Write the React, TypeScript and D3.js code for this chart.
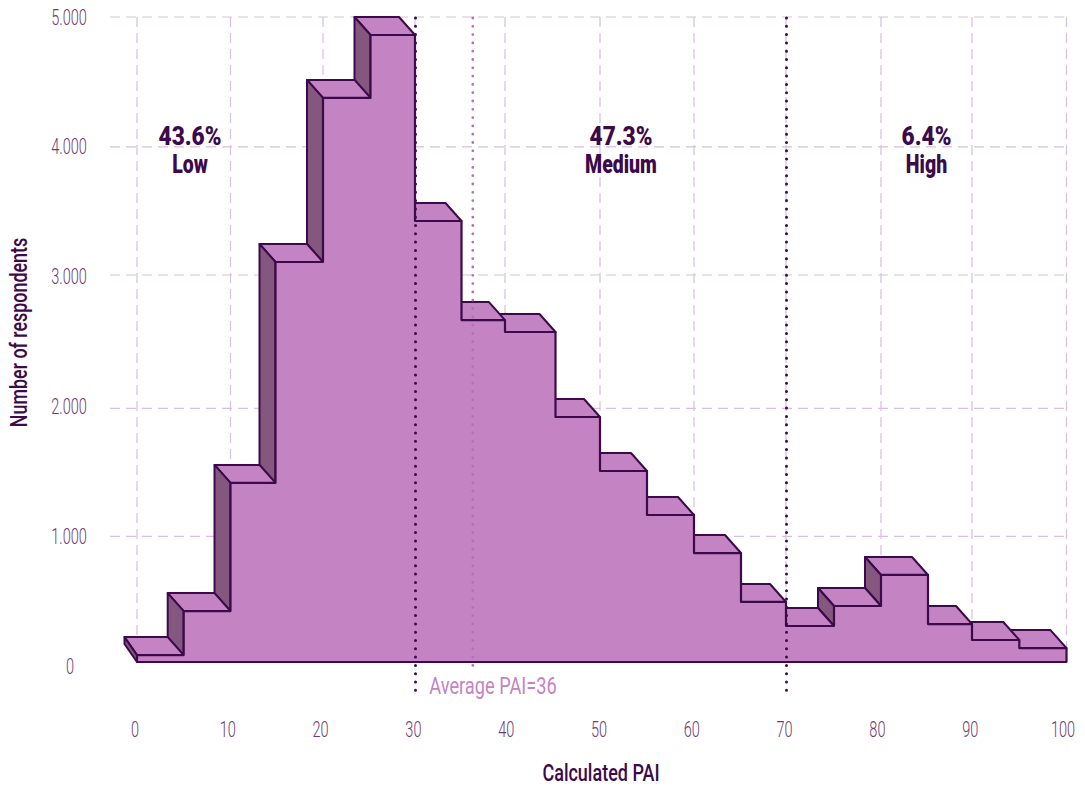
import React from 'react';
import * as d3 from 'd3';

const binStarts = [0,5,10,15,20,25,30,35,40,45,50,55,60,65,70,75,80,85,90,95];
const respondents = [223,562,1549,3251,4515,5000,3567,2804,2712,2057,1641,1302,1009,632,447,601,840,462,339,277];
const xTicks = [0,10,20,30,40,50,60,70,80,90,100];
const yTicks = [0,1000,2000,3000,4000,5000];
const yTickLabels = ['0','1.000','2.000','3.000','4.000','5.000'];
const bands = [
  { at: 190, pct: '43.6%', name: 'Low' },
  { at: 621, pct: '47.3%', name: 'Medium' },
  { at: 926.5, pct: '6.4%', name: 'High' },
];
const thresholds = [30, 70];
const averagePaiMark = 36.3;

const x = d3.scaleLinear()
  .domain([0,5,10,15,20,25,30,35,40,45,50,55,60,65,70,75,80,85,90,95,100])
  .range([137,183.7,230.5,275.5,323,370.5,415,461.5,505,555.5,600,647,694,741,786,834,881,928,972,1019.3,1066.5]);
const labelX = d3.scaleLinear().domain([0,100]).range([135,1063]);
const y = d3.scaleLinear().domain([0,5000]).range([666,17]);
const gridY = d3.scaleLinear().domain([1000,2000,3000,4000,5000]).range([536.3,408.3,275,146.8,17]);
const DX = 16, DY = 18, FIRST_DX = 12.5, BASE = 662;
const DARK = '#3c0a4a', FILL = '#c483c3', SIDE = '#84577f', GRID = '#d8bfdb', TICK = '#6e3a76';

const T = ({ x: tx, y: ty, sx = 0.72, size, fill, weight = 300, children, rotate = 0 }: any) => (
  <text
    transform={`translate(${tx},${ty}) rotate(${rotate}) scale(${sx},1)`}
    textAnchor="middle"
    fontFamily="Roboto"
    fontWeight={weight}
    fontSize={size}
    fill={fill}
  >{children}</text>
);

export default function App() {
  const bars = binStarts.map((s, i) => ({
    x0: x(s), x1: x(s + 5), top: y(respondents[i]), front: y(respondents[i]) + DY,
  }));
  const line = d3.line();
  const outline: [number, number][] = [[bars[0].x0, BASE]];
  bars.forEach(b => { outline.push([b.x0, b.front]); outline.push([b.x1, b.front]); });
  outline.push([bars[bars.length - 1].x1, BASE]);
  const reversed = bars.map((b, i) => ({ ...b, i })).reverse();

  return (
    <svg width={1085} height={787} style={{ position: 'absolute', left: 0, top: 0 }}>
      {yTicks.slice(1).map(t => (
        <line key={t} x1={110} x2={1067} y1={gridY(t)} y2={gridY(t)} stroke={GRID} strokeWidth={1.2} strokeDasharray="10 6" />
      ))}
      {xTicks.map(t => (
        <line key={t} x1={x(t)} x2={x(t)} y1={17} y2={660} stroke={GRID} strokeWidth={1.2} strokeDasharray="10 6" />
      ))}
      {reversed.map(b => {
        const prev = b.i > 0 ? bars[b.i - 1] : null;
        const dx = b.i === 0 ? FIRST_DX : DX;
        const low = prev ? prev.front : BASE;
        return (
          <g key={b.i}>
            <path
              d={line([[b.x0, b.front],[b.x1, b.front],[b.x1 - DX, b.top],[b.x0 - dx, b.top]])!+'Z'}
              fill={FILL} stroke={DARK} strokeWidth={2} strokeLinejoin="round"
            />
            {b.front < low && (
              <path
                d={line([[b.x0, b.front],[b.x0, low],[b.x0 - dx, low - DY],[b.x0 - dx, b.top]])!+'Z'}
                fill={SIDE} stroke={DARK} strokeWidth={2} strokeLinejoin="round"
              />
            )}
          </g>
        );
      })}
      <path d={line(outline)!+'Z'} fill={FILL} stroke={DARK} strokeWidth={2.2} strokeLinejoin="round" />
      <line x1={x(averagePaiMark)} x2={x(averagePaiMark)} y1={18} y2={672} stroke="#b86db9" strokeWidth={2.8} strokeDasharray="0 8.3" strokeLinecap="round" />
      {thresholds.map(t => (
        <line key={t} x1={x(t) + 0.5} x2={x(t) + 0.5} y1={18} y2={691} stroke={DARK} strokeWidth={3} strokeDasharray="0 8.3" strokeLinecap="round" />
      ))}
      {yTicks.map((t, i) => (
        <T key={t} x={i === 0 ? 70 : 69} y={y(t) + 7.5} size={22} sx={0.66} fill={TICK}>{yTickLabels[i]}</T>
      ))}
      {xTicks.map(t => (
        <T key={t} x={labelX(t)} y={737} size={22} sx={0.66} fill={TICK}>{t}</T>
      ))}
      <T x={601} y={781} size={24} sx={0.75} fill={DARK} weight={500}>Calculated PAI</T>
      <T x={26.5} y={332.5} size={24} sx={0.745} fill={DARK} weight={500} rotate={-90}>Number of respondents</T>
      <T x={493} y={694} size={24} sx={0.76} fill="#c483c3" weight={400}>Average PAI=36</T>
      {bands.map(b => (
        <g key={b.name}>
          <T x={b.at} y={145} size={26} fill={DARK} weight={900} sx={0.87}>{b.pct}</T>
          <T x={b.at} y={173} size={25} fill={DARK} weight={900} sx={0.78}>{b.name}</T>
        </g>
      ))}
    </svg>
  );
}
